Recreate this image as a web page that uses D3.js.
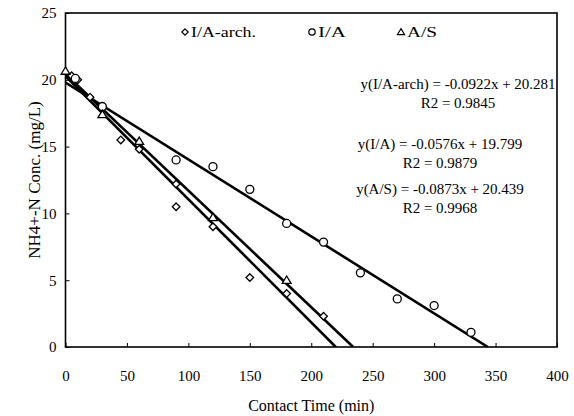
<!DOCTYPE html>
<html><head><meta charset="utf-8">
<script src="https://cdn.jsdelivr.net/npm/d3@7"></script>
<style>body{margin:0;background:#fff}svg{display:block}</style>
</head><body><svg id="c" width="574" height="416"></svg>
<script>
const xTicks = [0, 50, 100, 150, 200, 250, 300, 350, 400];
const yTicks = [0, 5, 10, 15, 20, 25];
const seriesNames = ["I/A-arch.", "I/A", "A/S"];
const archX = [5, 10, 20, 45, 60, 90, 90, 120, 150, 180, 210];
const archY = [20.3, 20.0, 18.7, 15.5, 14.8, 12.2, 10.5, 9.0, 5.2, 4.0, 2.3];
const iaX = [8, 30, 90, 120, 150, 180, 210, 240, 270, 300, 330];
const iaY = [20.1, 18.0, 14.0, 13.5, 11.8, 9.25, 7.85, 5.55, 3.6, 3.1, 1.1];
const asX = [0, 30, 60, 120, 180];
const asY = [20.65, 17.4, 15.4, 9.7, 5.0];
const slopes = [-0.0922, -0.0576, -0.0873];
const intercepts = [20.281, 19.799, 20.439];
const eqLabels = ["y(I/A-arch) = -0.0922x + 20.281", "y(I/A) = -0.0576x + 19.799", "y(A/S) = -0.0873x + 20.439"];
const r2Labels = ["R2 = 0.9845", "R2 = 0.9879", "R2 = 0.9968"];

const FONT = '"Liberation Serif", "Times New Roman", serif';
const svg = d3.select("#c").attr("font-family", FONT);
const L = 65.5, R = 557, T = 13, B = 347;
const x = d3.scaleLinear().domain([0, 400]).range([L, R]);
const y = d3.scaleLinear().domain([0, 25]).range([B, T]);

// axes (ticks inside)
const xa = svg.append("g").attr("transform", `translate(0,${B})`)
  .call(d3.axisBottom(x).tickValues(xTicks).tickSize(-4).tickPadding(23).tickFormat(d3.format("d")));
const ya = svg.append("g").attr("transform", `translate(${L},0)`)
  .call(d3.axisLeft(y).tickValues(yTicks).tickSize(-4).tickPadding(9).tickFormat(d3.format("d")));
[xa, ya].forEach(a => {
  a.attr("font-family", FONT).attr("font-size", 15);
  a.select(".domain").remove();
  a.selectAll("line").attr("stroke", "#000").attr("stroke-width", 1);
  a.selectAll("text").attr("fill", "#000");
});

// frame
svg.append("rect").attr("x", L).attr("y", T).attr("width", R - L).attr("height", B - T)
  .attr("fill", "none").attr("stroke", "#000").attr("stroke-width", 1.6);

// regression lines
svg.append("defs").append("clipPath").attr("id", "pc").append("rect")
  .attr("x", L).attr("y", T).attr("width", R - L).attr("height", B - T);
const lg = svg.append("g").attr("clip-path", "url(#pc)");
slopes.forEach((m, i) => {
  const b = intercepts[i];
  const x1 = -b / m;
  lg.append("line").attr("x1", x(0)).attr("y1", y(b)).attr("x2", x(x1)).attr("y2", y(0))
    .attr("stroke", "#000").attr("stroke-width", 2.6);
});

// markers
const diamond = s => `M0,${-s}L${s},0L0,${s}L${-s},0Z`;
const tri = s => `M0,${-s}L${s * 1.05},${s * 0.75}L${-s * 1.05},${s * 0.75}Z`;
const mk = svg.append("g").attr("fill", "#fff").attr("stroke", "#000").attr("stroke-width", 1.3);
archX.forEach((v, i) => mk.append("path").attr("d", diamond(3.8)).attr("transform", `translate(${x(v)},${y(archY[i])})`));
iaX.forEach((v, i) => mk.append("circle").attr("r", 4).attr("cx", x(v)).attr("cy", y(iaY[i])));
asX.forEach((v, i) => mk.append("path").attr("d", tri(4.2)).attr("transform", `translate(${x(v)},${y(asY[i])})`));

// legend
const legX = [185, 312, 401];
const legW = [65, 28, 30];
const legShapes = [diamond(3.2), null, tri(3.4)];
seriesNames.forEach((n, i) => {
  const g = svg.append("g").attr("transform", `translate(${legX[i]},32)`);
  if (legShapes[i]) g.append("path").attr("d", legShapes[i]).attr("fill", "#fff").attr("stroke", "#000").attr("stroke-width", 1.2);
  else g.append("circle").attr("r", 3.2).attr("fill", "#fff").attr("stroke", "#000").attr("stroke-width", 1.2);
  g.append("text").attr("x", 6).attr("y", 5).attr("font-size", 14)
    .attr("textLength", legW[i]).attr("lengthAdjust", "spacingAndGlyphs").text(n);
});

// equations
const eqCx = [458, 440, 440];
const eqCy = [84, 144, 189];
eqLabels.forEach((t, i) => {
  svg.append("text").attr("x", eqCx[i]).attr("y", eqCy[i] + 5).attr("text-anchor", "middle").attr("font-size", 15).text(t);
  svg.append("text").attr("x", eqCx[i]).attr("y", eqCy[i] + 24).attr("text-anchor", "middle").attr("font-size", 15).text(r2Labels[i]);
});

// axis titles
svg.append("text").attr("x", (L + R) / 2).attr("y", 411).attr("text-anchor", "middle").attr("font-size", 16).text("Contact Time (min)");
svg.append("text").attr("transform", "translate(40,180) rotate(-90)").attr("text-anchor", "middle").attr("font-size", 17).text("NH4+-N Conc. (mg/L)");
</script></body></html>
